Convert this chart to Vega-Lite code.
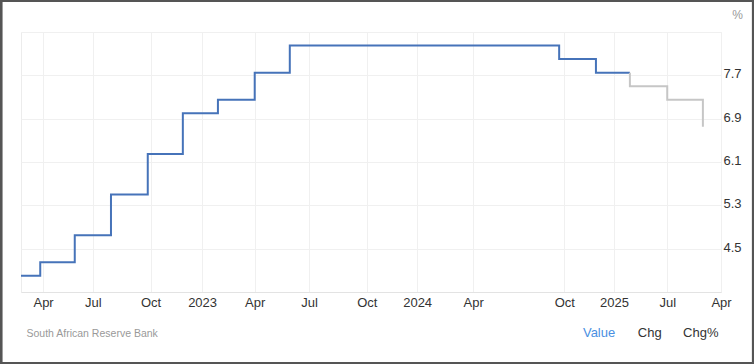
{
  "$schema": "https://vega.github.io/schema/vega-lite/v6.json",
  "width": 700,
  "height": 260,
  "autosize": "none",
  "padding": {"left": 21, "top": 32, "right": 33, "bottom": 72},
  "background": "white",
  "config": {
    "view": {"stroke": "#ececec", "strokeWidth": 1},
    "font": "Liberation Sans, Arial, sans-serif"
  },
  "layer": [
    {
      "data": {
        "values": [
          {"date": "2022-02-18", "value": 4.0, "series": "Actual"},
          {"date": "2022-03-24", "value": 4.25, "series": "Actual"},
          {"date": "2022-05-24", "value": 4.75, "series": "Actual"},
          {"date": "2022-07-27", "value": 5.5, "series": "Actual"},
          {"date": "2022-09-30", "value": 6.25, "series": "Actual"},
          {"date": "2022-12-01", "value": 7.0, "series": "Actual"},
          {"date": "2023-02-01", "value": 7.25, "series": "Actual"},
          {"date": "2023-04-07", "value": 7.75, "series": "Actual"},
          {"date": "2023-06-08", "value": 8.25, "series": "Actual"},
          {"date": "2024-09-26", "value": 8.0, "series": "Actual"},
          {"date": "2024-11-30", "value": 7.75, "series": "Actual"},
          {"date": "2025-01-29", "value": 7.75, "series": "Actual"},
          {"date": "2025-01-29", "value": 7.75, "series": "Forecast"},
          {"date": "2025-01-29", "value": 7.5, "series": "Forecast"},
          {"date": "2025-04-05", "value": 7.25, "series": "Forecast"},
          {"date": "2025-06-07", "value": 6.75, "series": "Forecast"}
        ],
        "format": {"parse": {"date": "date:'%Y-%m-%d'"}}
      },
      "mark": {"type": "line", "interpolate": "step-after", "strokeWidth": 2},
      "encoding": {
        "x": {
          "field": "date",
          "type": "temporal",
          "scale": {"domain": [{"year": 2022, "month": 2, "date": 18}, {"year": 2025, "month": 7, "date": 9}]},
          "axis": {
            "values": [
              {"year": 2022, "month": 3, "date": 29},
              {"year": 2022, "month": 6, "date": 25},
              {"year": 2022, "month": 10, "date": 5},
              {"year": 2023, "month": 1, "date": 4},
              {"year": 2023, "month": 4, "date": 7},
              {"year": 2023, "month": 7, "date": 12},
              {"year": 2023, "month": 10, "date": 22},
              {"year": 2024, "month": 1, "date": 19},
              {"year": 2024, "month": 4, "date": 27},
              {"year": 2024, "month": 10, "date": 5},
              {"year": 2025, "month": 1, "date": 1},
              {"year": 2025, "month": 4, "date": 5},
              {"year": 2025, "month": 7, "date": 9}
            ],
            "labelExpr": "['Apr','Jul','Oct','2023','Apr','Jul','Oct','2024','Apr','Oct','2025','Jul','Apr'][indexof(['2022-03-29','2022-06-25','2022-10-05','2023-01-04','2023-04-07','2023-07-12','2023-10-22','2024-01-19','2024-04-27','2024-10-05','2025-01-01','2025-04-05','2025-07-09'], timeFormat(datum.value, '%Y-%m-%d'))]",
            "labelFlush": false,
            "labelOverlap": false,
            "labelFontSize": 13,
            "labelColor": "#333333",
            "labelPadding": 4,
            "ticks": false,
            "grid": true,
            "gridColor": "#f0f0f0",
            "domain": true,
            "domainColor": "#e3e3e3",
            "title": "South African Reserve Bank",
            "titleX": 5,
            "titleY": 41,
            "titleAlign": "left",
            "titleBaseline": "middle",
            "titleFontSize": 10.5,
            "titleFontWeight": "normal",
            "titleColor": "#999999"
          }
        },
        "y": {
          "field": "value",
          "type": "quantitative",
          "scale": {"domain": [3.7, 8.5], "zero": false, "nice": false},
          "axis": {
            "orient": "right",
            "values": [3.7, 4.5, 5.3, 6.1, 6.9, 7.7, 8.5],
            "labelExpr": "datum.value < 4 || datum.value > 8 ? '' : format(datum.value, '.1f')",
            "labelFontSize": 13,
            "labelColor": "#333333",
            "labelPadding": 2,
            "labelOffset": -1.5,
            "labelBaseline": "middle",
            "ticks": false,
            "domain": false,
            "grid": true,
            "gridColor": "#f0f0f0",
            "title": "%",
            "titleAngle": 0,
            "titleX": 16,
            "titleY": -18,
            "titleAlign": "center",
            "titleBaseline": "middle",
            "titleFontSize": 12,
            "titleFontWeight": "normal",
            "titleColor": "#999999"
          }
        },
        "color": {
          "field": "series",
          "type": "nominal",
          "scale": {"domain": ["Actual", "Forecast"], "range": ["#4673b9", "#c6c6c6"]},
          "legend": null
        }
      }
    },
    {
      "data": {"values": [{}]},
      "mark": {"type": "rect", "fill": "transparent", "stroke": "#555555", "strokeWidth": 5, "clip": false},
      "encoding": {
        "x": {"datum": {"year": 2022, "month": 1, "date": 12}, "type": "temporal"},
        "x2": {"datum": {"year": 2025, "month": 9, "date": 6}},
        "y": {"datum": 9.1, "type": "quantitative"},
        "y2": {"datum": 2.36}
      }
    },
    {
      "data": {"values": [{}]},
      "mark": {"type": "text", "align": "left", "baseline": "middle", "fontSize": 13, "color": "#4a90e2"},
      "encoding": {
        "x": {"datum": {"year": 2024, "month": 11, "date": 7}, "type": "temporal"},
        "y": {"datum": 2.934, "type": "quantitative"},
        "text": {"value": "Value"}
      }
    },
    {
      "data": {"values": [{}]},
      "mark": {"type": "text", "align": "left", "baseline": "middle", "fontSize": 13, "color": "#333333"},
      "encoding": {
        "x": {"datum": {"year": 2025, "month": 2, "date": 12}, "type": "temporal"},
        "y": {"datum": 2.934, "type": "quantitative"},
        "text": {"value": "Chg"}
      }
    },
    {
      "data": {"values": [{}]},
      "mark": {"type": "text", "align": "left", "baseline": "middle", "fontSize": 13, "color": "#333333"},
      "encoding": {
        "x": {"datum": {"year": 2025, "month": 5, "date": 3}, "type": "temporal"},
        "y": {"datum": 2.934, "type": "quantitative"},
        "text": {"value": "Chg%"}
      }
    }
  ]
}
